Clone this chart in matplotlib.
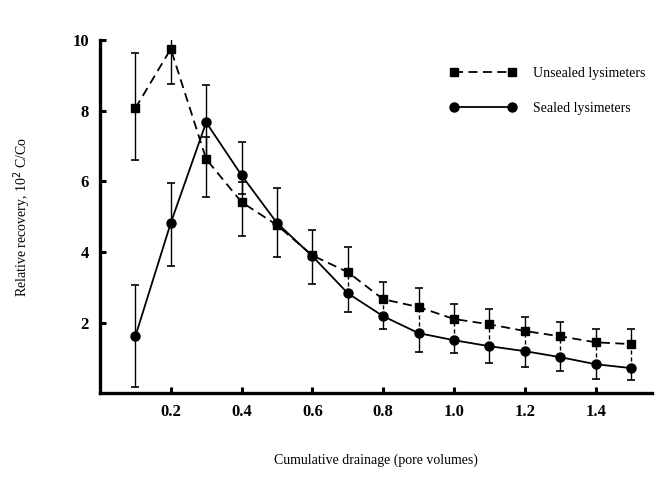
import matplotlib
matplotlib.use("Agg")
import matplotlib.pyplot as plt
import numpy as np

plt.rcParams['font.family'] = ['Liberation Serif', 'DejaVu Serif']

# cumulative drainage (pore volumes)
drainage = [0.1, 0.2, 0.3, 0.4, 0.5, 0.6, 0.7, 0.8, 0.9, 1.0, 1.1, 1.2, 1.3, 1.4, 1.5]

# unsealed lysimeters, 10^2 C/Co
unsealed = [8.07, 9.75, 6.63, 5.41, 4.76, 3.90, 3.43, 2.66, 2.44, 2.10, 1.95, 1.76, 1.61, 1.44, 1.39]
unsealed_hi = [9.63, 10.74, 7.25, 5.98, 4.76, 3.90, 4.14, 3.14, 2.97, 2.52, 2.38, 2.15, 2.01, 1.81, 1.81]
unsealed_lo = [6.60, 8.75, 5.55, 4.45, 4.76, 3.90, 3.43, 2.66, 2.44, 2.10, 1.95, 1.76, 1.61, 1.44, 1.39]

# sealed lysimeters, 10^2 C/Co
sealed = [1.61, 4.82, 7.67, 6.17, 4.82, 3.88, 2.83, 2.18, 1.70, 1.50, 1.33, 1.19, 1.02, 0.82, 0.71]
sealed_hi = [3.06, 5.95, 8.72, 7.10, 5.80, 4.62, 2.83, 2.18, 1.70, 1.50, 1.33, 1.19, 1.02, 0.82, 0.71]
sealed_lo = [0.17, 3.60, 6.60, 5.65, 3.85, 3.09, 2.29, 1.81, 1.16, 1.13, 0.85, 0.74, 0.62, 0.40, 0.37]

x = np.array(drainage)
u = np.array(unsealed)
s = np.array(sealed)

fig = plt.figure(figsize=(6.71, 4.83), dpi=100)
ax = fig.add_axes([0.149, 0.186, 0.823, 0.731])

ax.errorbar(x, u, yerr=[u - np.array(unsealed_lo), np.array(unsealed_hi) - u],
            fmt='none', ecolor='black', elinewidth=1.0, capsize=3, capthick=1.2)
ax.errorbar(x, s, yerr=[s - np.array(sealed_lo), np.array(sealed_hi) - s],
            fmt='none', ecolor='black', elinewidth=1.0, capsize=3, capthick=1.2)

# dashed stems joining the two series on the tail
tail = x >= 0.65
ax.vlines(x[tail], s[tail], u[tail], colors='black', linestyles=(0, (3, 2)), linewidth=1.0)

ax.plot(x, u, color='black', linestyle=(0, (5, 3)), linewidth=1.3,
        marker='s', markersize=6, label='Unsealed lysimeters')
ax.plot(x, s, color='black', linestyle='-', linewidth=1.3,
        marker='o', markersize=6.5, label='Sealed lysimeters')

ax.set_xlim(0, 1.56)
ax.set_ylim(0, 10)
ax.set_xticks([0.2, 0.4, 0.6, 0.8, 1.0, 1.2, 1.4])
ax.set_yticks([2, 4, 6, 8, 10])
ax.set_xticklabels(['0.2', '0.4', '0.6', '0.8', '1.0', '1.2', '1.4'], fontweight='bold')
ax.set_yticklabels(['2', '4', '6', '8', '10'], fontweight='bold')
ax.tick_params(direction='in', length=4, width=2.2, labelsize=12, pad=8)

for side in ['top', 'right']:
    ax.spines[side].set_visible(False)
for side in ['left', 'bottom']:
    ax.spines[side].set_linewidth(2.4)

ax.set_xlabel('Cumulative drainage (pore volumes)', fontsize=10, labelpad=24)
ax.set_ylabel('Relative recovery, 10$^2$ C/Co', fontsize=10, labelpad=28)

leg = ax.legend(loc='upper right', bbox_to_anchor=(1.01, 0.96), frameon=False,
                numpoints=2, handlelength=4.8, labelspacing=1.6, handletextpad=1.2,
                fontsize=10)

fig.savefig('out.png', dpi=100)
